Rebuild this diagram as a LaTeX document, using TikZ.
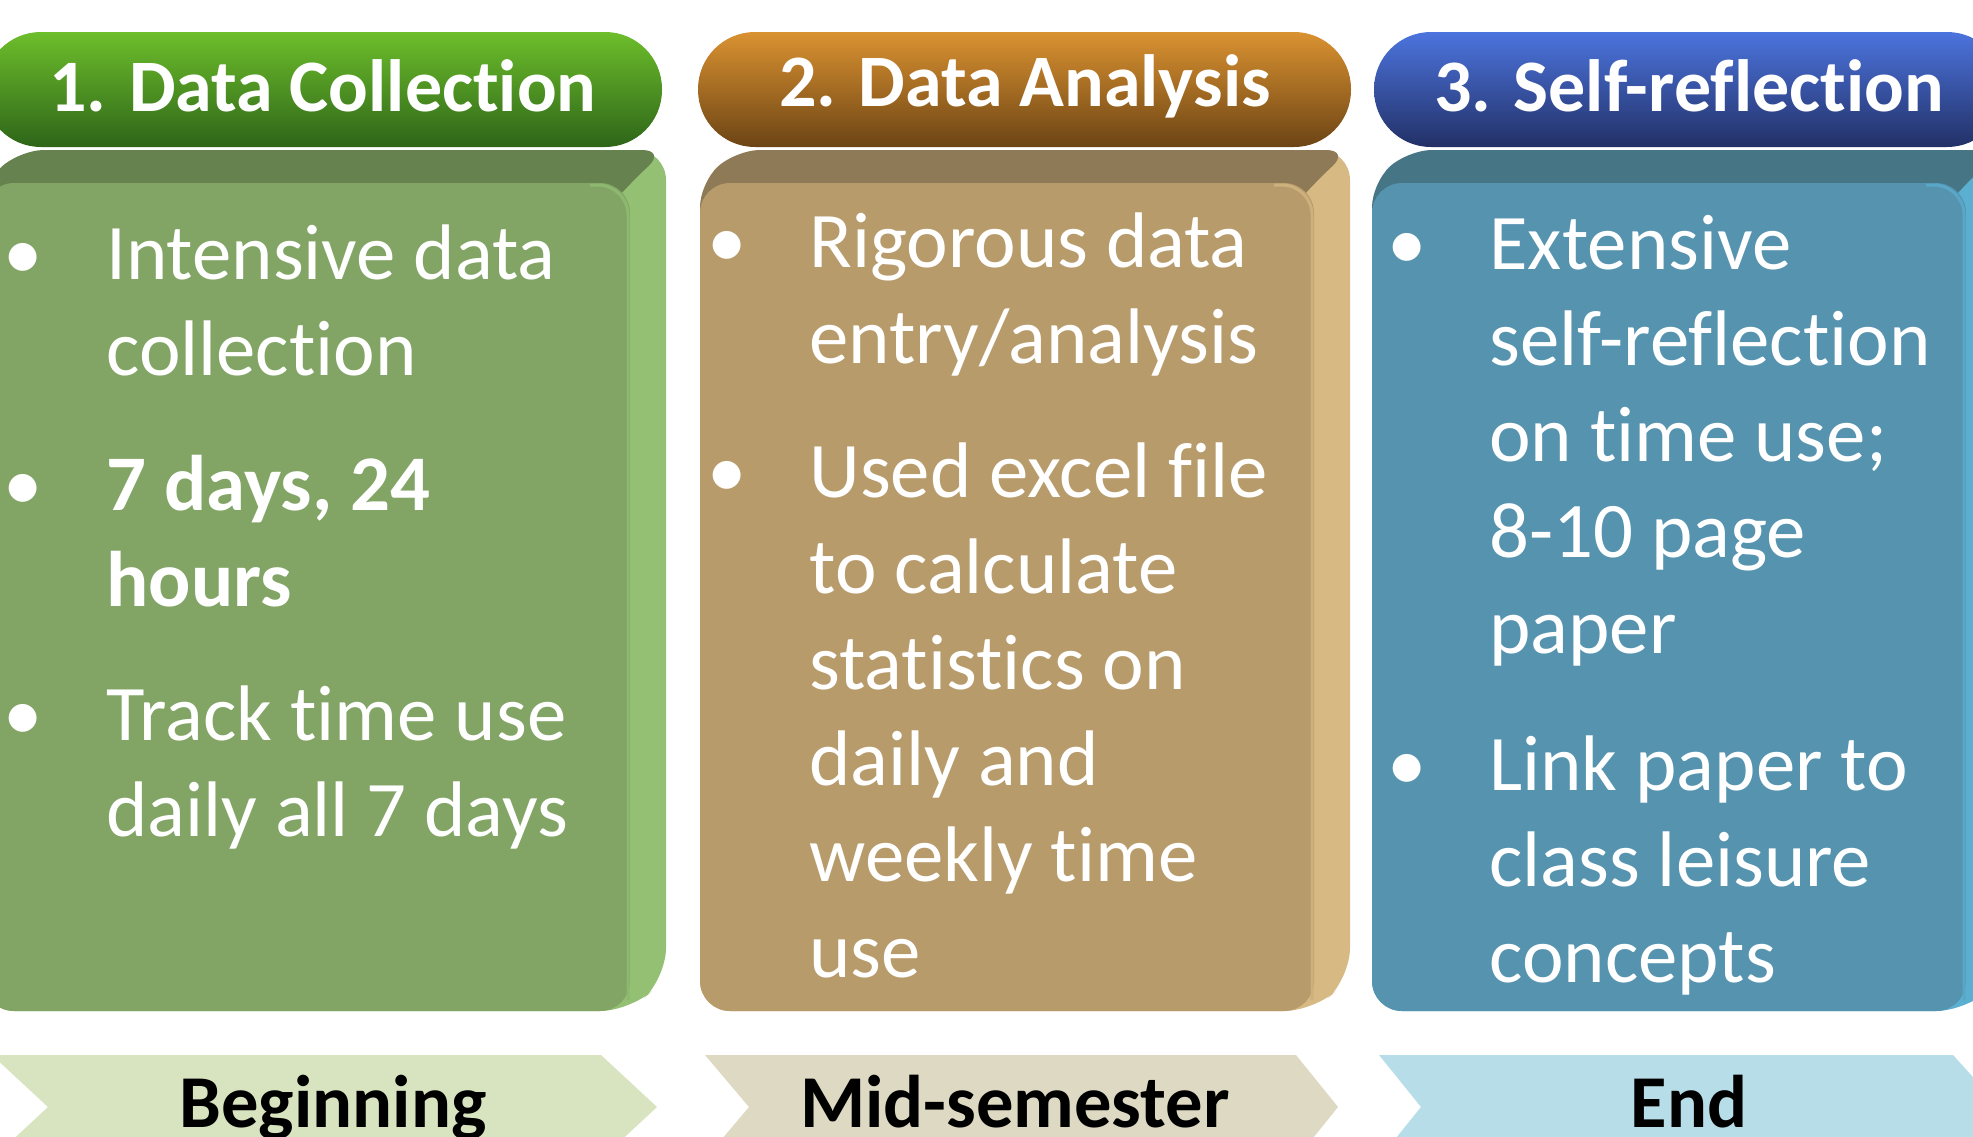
\documentclass[tikz,border=0pt]{standalone}
\usepackage{fontspec}
\setmainfont{Carlito}[Ligatures={NoCommon,NoContextual}]
\begin{document}
\begin{tikzpicture}[x=0.5pt,y=-0.5pt]
\definecolor{gTop}{HTML}{6DBE2B}\definecolor{gBot}{HTML}{2E6519}
\definecolor{oTop}{HTML}{DA9231}\definecolor{oBot}{HTML}{6C4414}
\definecolor{bTop}{HTML}{4C74DE}\definecolor{bBot}{HTML}{223066}
\definecolor{gFront}{HTML}{82A566}\definecolor{gTopF}{HTML}{66824F}\definecolor{gSide}{HTML}{93C073}
\definecolor{oFront}{HTML}{B89B6B}\definecolor{oTopF}{HTML}{8E7A56}\definecolor{oSide}{HTML}{D6B983}
\definecolor{bFront}{HTML}{5593AF}\definecolor{bTopF}{HTML}{467585}\definecolor{bSide}{HTML}{5BB0D2}
\definecolor{cG}{HTML}{D8E4BF}\definecolor{cO}{HTML}{DDD9C3}\definecolor{cB}{HTML}{B7DEE8}
\tikzset{
  hdr/.style={font=\fontsize{37}{44}\selectfont\bfseries, text=white},
  body/.style={font=\fontsize{39.4}{48}\selectfont, text=white, anchor=base west, align=left, inner sep=0pt},
  bul/.style={font=\fontsize{39.4}{48}\selectfont, text=white, anchor=base west, inner sep=0pt},
  lab/.style={font=\fontsize{37.3}{44}\selectfont\bfseries, text=black, anchor=base},
}
\newcommand\threedbox[5]{%
  \fill[#5, rounded corners=15pt] (#1,1011) -- (#1,183) -- ({#1+36},150) -- ({#2+36},150) -- ({#2+36},978) -- (#2,1011) -- cycle;
  \fill[#4, rounded corners=12pt] (#1,230) -- (#1,183) -- ({#1+36},150) -- ({#2+36},150) -- (#2,183) -- ({#2-40},230) -- cycle;
  \fill[#3, rounded corners=15pt] (#1,183) rectangle (#2,1011);
  \draw[#5!70!#3, line width=1.5pt, rounded corners=15pt] ({#2-2},1000) -- ({#2-2},185) -- ({#2-40},185);
}
\newcommand\chevron[5]{% xl, notch, xr, tip, colour
  \fill[#5] (#1,1055) -- (#3,1055) -- (#4,1107) -- (#3,1159) -- (#1,1159) -- (#2,1107) -- cycle;
}
\useasboundingbox (0,0) rectangle (1973,1136);
\clip (0,0) rectangle (1973,1136);
\fill[white] (0,0) rectangle (1973,1136);

% headers
\shade[top color=gTop, bottom color=gBot, rounded corners=28.5pt] (-16,32) rectangle (662,147);
\shade[top color=oTop, bottom color=oBot, rounded corners=28.5pt] (698,32) rectangle (1351,147);
\shade[top color=bTop, bottom color=bBot, rounded corners=28.5pt] (1374,32) rectangle (2004,147);
\node[hdr] (h1) at (323,86) {1. Data Collection};
\node[hdr] (h2) at (1025,86) {2. Data Analysis};
\node[hdr] (h3) at (1689,86) {3. Self-reflection};

% boxes
\threedbox{-16}{630}{gFront}{gTopF}{gSide}
\threedbox{700}{1314}{oFront}{oTopF}{oSide}
\threedbox{1372}{1966}{bFront}{bTopF}{bSide}

% column 1 (anchor = baseline of the last line)
\node[bul] (b11) at (3,279) {•};
\node[body] (t11) at (106,375) {Intensive data\\collection};
\node[bul] (b12) at (3,510) {•};
\node[body, font=\fontsize{39.4}{48}\selectfont\bfseries] (t12) at (106,606) {7 days, 24\\hours};
\node[bul] (b13) at (3,740) {•};
\node[body] (t13) at (106,836) {Track time use\\daily all 7 days};

% column 2
\node[bul] (b21) at (707,267) {•};
\node[body] (t21) at (809,363) {Rigorous data\\entry/analysis};
\node[bul] (b22) at (707,497) {•};
\node[body] (t22) at (809,977) {Used excel file\\to calculate\\statistics on\\daily and\\weekly time\\use};

% column 3
\node[bul] (b31) at (1387,269) {•};
\node[body] (t31) at (1489,653) {Extensive\\self-reflection\\on time use;\\8-10 page\\paper};
\node[bul] (b32) at (1387,790) {•};
\node[body] (t32) at (1489,982) {Link paper to\\class leisure\\concepts};

% chevrons
\chevron{-8}{48}{601}{657}{cG}
\chevron{705}{749}{1296}{1338}{cO}
\chevron{1379}{1421}{1953}{2000}{cB}
\node[lab] (l1) at (333,1127) {Beginning};
\node[lab] (l2) at (1015,1127) {Mid-semester};
\node[lab] (l3) at (1689,1127) {End};
\end{tikzpicture}
\end{document}
